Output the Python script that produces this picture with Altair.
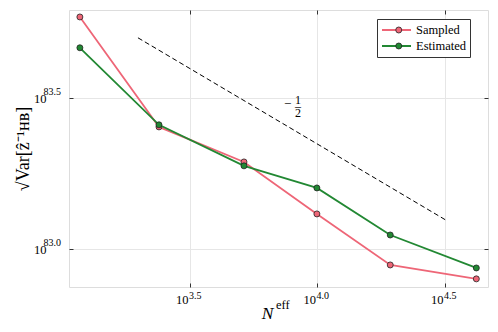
import altair as alt
import pandas as pd

# ---- data ----
n_eff = [1170, 2390, 5150, 9950, 19300, 42000]
sampled = [5.86e83, 2.535e83, 1.941e83, 1.306e83, 8.85e82, 7.96e82]
estimated = [4.634e83, 2.576e83, 1.884e83, 1.592e83, 1.112e83, 8.65e82]
series = ["Sampled", "Estimated"]
colors = ["#EE6677", "#228833"]

ref_x = [1977, 32200]
ref_y = [5.0e83, 1.24e83]

x_ticks = [10 ** 3.5, 10 ** 4.0, 10 ** 4.5]
x_exps = ["3.5", "4.0", "4.5"]
y_ticks = [1e83, 10 ** 83.5]
y_exps = ["83.0", "83.5"]

x_domain = [10 ** 3.0255, 10 ** 4.669]
y_domain = [10 ** 82.874, 10 ** 83.791]

slope_minus_x = [7640]
slope_frac_x = [8385]
slope_y = [3.0e83]
slope_minus = ["−"]
slope_frac = ["1\n–\n2"]

x_title = "N"
x_title_sup = ["eff"]

W, H = 419, 277
FONT = "Liberation Serif"
FRAME = "#333333"

# marker legend gets its own (label-less) domain so it is drawn as a separate overlay
series_pt = [s + "\u200b" for s in series]

rows = []
for s, sp, vals in zip(series, series_pt, [sampled, estimated]):
    for n, v in zip(n_eff, vals):
        rows.append({"N": n, "value": v, "series": s, "series_pt": sp})
df = pd.DataFrame(rows)

xscale = alt.Scale(type="log", domain=x_domain, nice=False, zero=False)
yscale = alt.Scale(type="log", domain=y_domain, nice=False, zero=False)

common = dict(ticks=True, tickSize=4, tickColor=FRAME, tickWidth=1, offset=-4, domain=False)

xaxis = alt.Axis(values=x_ticks, labelExpr="'10'", labelAlign="right", labelOffset=-2,
                 labelBaseline="middle", labelPadding=12.5,
                 grid=True, gridColor="#e6e6e6", gridWidth=1,
                 labelFont=FONT, labelFontSize=12.5, labelColor="black",
                 title=x_title, titleFont=FONT, titleFontSize=17.5, titleFontWeight="normal",
                 titleFontStyle="italic", titleColor="black",
                 titleBaseline="alphabetic", titleY=35.5, titleX=198, titleAlign="center",
                 titleAnchor="start", **common)
yaxis = alt.Axis(values=y_ticks, labelExpr="'10'", labelBaseline="middle", labelOffset=1,
                 labelPadding=23,
                 grid=True, gridColor="#e6e6e6", gridWidth=1,
                 labelFont=FONT, labelFontSize=12.5, labelColor="black",
                 title="√Var[ẑ⁻¹ʜʙ]", titleFont=FONT, titleFontSize=18,
                 titleFontWeight="normal", titleColor="black", titlePadding=1, **common)
xaxis_top = alt.Axis(orient="top", values=x_ticks, labels=False, grid=False, title=None, **common)
yaxis_right = alt.Axis(orient="right", values=y_ticks, labels=False, grid=False, title=None, **common)

base = alt.Chart(df)

stroke_legend = alt.Legend(orient="none", legendX=308, legendY=9, title=None,
                           symbolType="stroke", symbolSize=841, symbolStrokeWidth=2,
                           clipHeight=14, labelOffset=4, padding=4,
                           labelFont=FONT, labelFontSize=12.5, labelColor="black",
                           strokeColor=FRAME, fillColor="white", zindex=1)
fill_legend = alt.Legend(orient="none", legendX=308, legendY=9, title=None,
                         symbolType="circle", symbolSize=36, symbolStrokeColor="#222222",
                         symbolStrokeWidth=0.8, symbolOffset=11.5, clipHeight=14,
                         labelOffset=4, padding=4, labelExpr="''",
                         labelFont=FONT, labelFontSize=12.5, zindex=2)

layers = []
for i, s in enumerate(series):
    sub = base.transform_filter(alt.datum.series == s)
    layers.append(sub.mark_line(strokeWidth=1.8).encode(
        x=alt.X("N:Q", scale=xscale, axis=xaxis if i == 0 else None),
        y=alt.Y("value:Q", scale=yscale, axis=yaxis if i == 0 else None),
        stroke=alt.Stroke("series:N", scale=alt.Scale(domain=series, range=colors),
                          legend=stroke_legend),
    ))
    layers.append(sub.mark_point(filled=True, size=36, stroke="#222222", strokeWidth=0.8,
                                 opacity=1).encode(
        x=alt.X("N:Q", axis=None), y=alt.Y("value:Q", axis=None),
        fill=alt.Fill("series_pt:N", scale=alt.Scale(domain=series_pt, range=colors),
                      legend=fill_legend),
    ))

ref_df = pd.DataFrame({"x": ref_x, "y": ref_y})
ref = alt.Chart(ref_df).mark_line(color="black", strokeWidth=1, strokeDash=[5, 3]).encode(
    x=alt.X("x:Q", axis=None), y=alt.Y("y:Q", axis=None))

minus = alt.Chart(pd.DataFrame({"x": slope_minus_x, "y": slope_y, "t": slope_minus})).mark_text(
    font=FONT, fontSize=13, baseline="middle", align="center", color="black", dy=-1).encode(
    x=alt.X("x:Q", axis=None), y=alt.Y("y:Q", axis=None), text="t:N")
frac = alt.Chart(pd.DataFrame({"x": slope_frac_x, "y": slope_y, "t": slope_frac})).mark_text(
    font=FONT, fontSize=12, baseline="middle", align="center", color="black",
    lineBreak="\n", lineHeight=6.5, dy=-5).encode(
    x=alt.X("x:Q", axis=None), y=alt.Y("y:Q", axis=None), text="t:N")

xexp = alt.Chart(pd.DataFrame({"x": x_ticks, "t": x_exps})).mark_text(
    font=FONT, fontSize=10, baseline="middle", align="left", color="black", dx=-1).encode(
    x=alt.X("x:Q", axis=xaxis_top), y=alt.value(H + 9), text="t:N")
yexp = alt.Chart(pd.DataFrame({"y": y_ticks, "t": y_exps})).mark_text(
    font=FONT, fontSize=10, baseline="middle", align="left", color="black", dy=-6).encode(
    x=alt.value(-25.5), y=alt.Y("y:Q", axis=yaxis_right), text="t:N")

xsup = alt.Chart(pd.DataFrame({"t": x_title_sup})).mark_text(
    font=FONT, fontSize=12.5, baseline="middle", align="left", color="black").encode(
    x=alt.value(207), y=alt.value(H + 18), text="t:N")

chart = alt.layer(ref, *layers, minus, frac, xexp, yexp, xsup).resolve_axis(
    x="independent", y="independent"
).properties(
    width=W, height=H,
    autosize=alt.AutoSizeParams(type="none"),
    padding={"left": 61, "top": 2, "right": 2, "bottom": 37},
).configure_view(stroke=FRAME, strokeWidth=1.2).configure(background="white")

chart.save("out.html", embed_options={"renderer": "svg", "actions": False})
